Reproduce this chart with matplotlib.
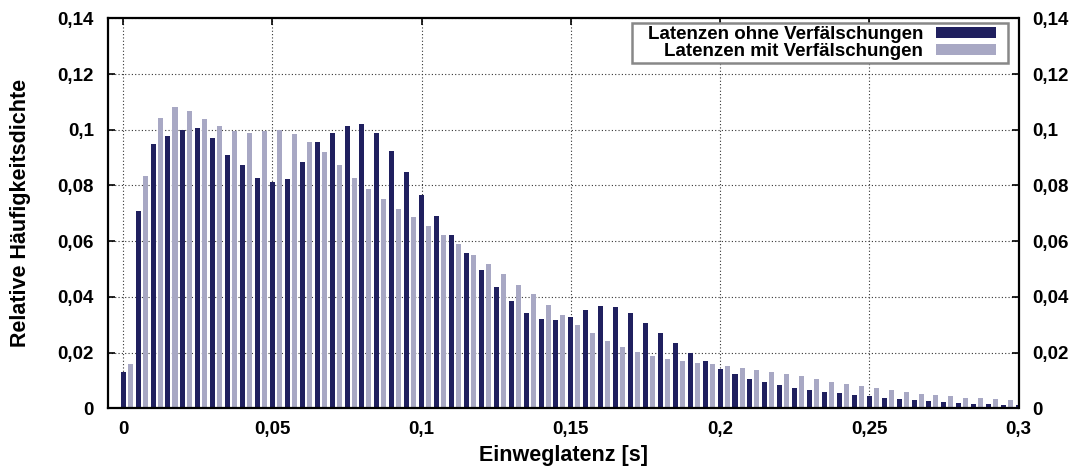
import numpy as np
import matplotlib
matplotlib.use("Agg")
import matplotlib.pyplot as plt
from matplotlib.patches import Rectangle
from matplotlib.transforms import IdentityTransform
from matplotlib.ticker import FuncFormatter, MultipleLocator

plt.rcParams['font.family'] = ['Liberation Sans', 'DejaVu Sans']
plt.rcParams['font.weight'] = 'bold'
plt.rcParams['font.size'] = 13.5

# Histogram bins (s), bin width 5 ms
bin_width = 0.005
n_bins = 61

# Relative frequency density per bin
ohne = [0.0131, 0.0707, 0.0947, 0.0976, 0.0999, 0.1005, 0.0969, 0.0908, 0.0872, 0.0826,
        0.0811, 0.0822, 0.0883, 0.0955, 0.0987, 0.1012, 0.1019, 0.0990, 0.0922, 0.0847,
        0.0765, 0.0689, 0.0621, 0.0557, 0.0496, 0.0435, 0.0385, 0.0342, 0.0320, 0.0317,
        0.0328, 0.0353, 0.0368, 0.0364, 0.0343, 0.0307, 0.0271, 0.0235, 0.0199, 0.0170,
        0.0141, 0.0123, 0.0105, 0.0095, 0.0084, 0.0073, 0.0066, 0.0059, 0.0055, 0.0048,
        0.0044, 0.0037, 0.0034, 0.0030, 0.0026, 0.0023, 0.0019, 0.0016, 0.0016, 0.0012,
        0.0012]
mit = [0.0159, 0.0833, 0.1041, 0.1080, 0.1069, 0.1037, 0.1012, 0.0994, 0.0990, 0.0994,
       0.0998, 0.0983, 0.0955, 0.0919, 0.0872, 0.0826, 0.0786, 0.0750, 0.0714, 0.0686,
       0.0654, 0.0621, 0.0589, 0.0550, 0.0517, 0.0481, 0.0442, 0.0410, 0.0370, 0.0335,
       0.0299, 0.0271, 0.0242, 0.0220, 0.0202, 0.0188, 0.0177, 0.0170, 0.0163, 0.0159,
       0.0152, 0.0145, 0.0138, 0.0131, 0.0123, 0.0116, 0.0105, 0.0095, 0.0087, 0.0080,
       0.0073, 0.0066, 0.0059, 0.0051, 0.0048, 0.0044, 0.0037, 0.0037, 0.0034, 0.0030,
       0.0028]

dark = '#20205f'
light = '#a8a8c4'

x = np.arange(n_bins) * bin_width
bw = 0.00168

fig = plt.figure(figsize=(10.76, 4.68), dpi=100)
ax = fig.add_axes([108 / 1076, 1 - 408.3 / 468, 910.5 / 1076, 390 / 468])

ax.bar(x, ohne, width=bw, color=dark, label='Latenzen ohne Verfälschungen', zorder=2)
ax.bar(x + 0.00235, mit, width=bw, color=light, label='Latenzen mit Verfälschungen', zorder=2)

ax.set_xlim(-0.0051, 0.3)
ax.set_ylim(0, 0.14)
ax.xaxis.set_major_locator(MultipleLocator(0.05))
ax.yaxis.set_major_locator(MultipleLocator(0.02))

fmt = FuncFormatter(lambda v, p: ('%g' % round(v, 4)).replace('.', ','))
ax.xaxis.set_major_formatter(fmt)
ax.yaxis.set_major_formatter(fmt)

ax.grid(True, color='#333333', linestyle=(0, (1, 2)), linewidth=0.8, zorder=0)
ax.set_axisbelow(True)

ax.tick_params(direction='in', length=5, width=1.2, top=True, right=True,
               labelright=True, labelsize=13.5)
ax.tick_params(axis='y', which='major', pad=10)
ax.tick_params(axis='x', which='major', pad=9)
for lbl in ax.get_yticklabels() + ax.get_xticklabels():
    lbl.set_fontweight('bold')
for sp in ax.spines.values():
    sp.set_linewidth(1.6)

ax.set_xlabel('Einweglatenz [s]', fontsize=15.5, fontweight='bold', va='center')
ax.set_ylabel('Relative Häufigkeitsdichte', fontsize=15.5, fontweight='bold', va='center')
ax.xaxis.set_label_coords(0.5, (408.3 - 455) / 390)
ax.yaxis.set_label_coords((21 - 108) / 910.5, 0.5)

# legend entries without frame, box drawn separately so it can be wider
leg = ax.legend(loc='upper right', bbox_to_anchor=(999 / 1076, 1 - 23.3 / 468),
                bbox_transform=fig.transFigure, borderaxespad=0, markerfirst=False,
                frameon=False, fontsize=13.5,
                handlelength=3.2, handleheight=0.48, handletextpad=0.7,
                labelspacing=0.0, borderpad=0.15)
for t in leg.get_texts():
    t.set_fontweight('bold')

fig.canvas.draw()
bb = leg.get_window_extent()
box = Rectangle((bb.x0 - 13, bb.y0), bb.width + 22, bb.height,
                transform=IdentityTransform(), clip_on=False,
                facecolor='white', edgecolor='#888888', linewidth=1.8, zorder=4.5)
ax.add_artist(box)

fig.savefig('out.png', dpi=100)
